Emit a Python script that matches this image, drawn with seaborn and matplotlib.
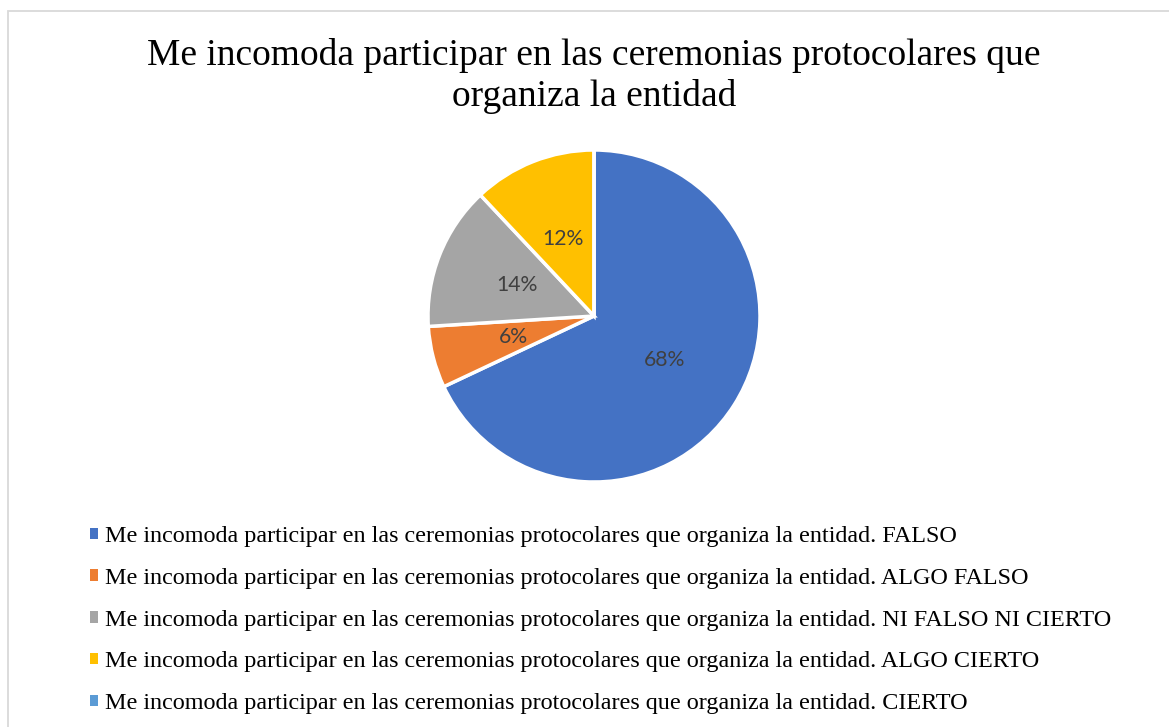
import matplotlib
matplotlib.use("Agg")
import matplotlib.pyplot as plt
from matplotlib.patches import Rectangle, Patch
import seaborn as sns

sns.set_theme(style="white")
plt.rcParams["font.family"] = ["Liberation Serif", "DejaVu Serif"]

# datos
title_lines = ["Me incomoda participar en las ceremonias protocolares que",
               "organiza la entidad"]
prefix = "Me incomoda participar en las ceremonias protocolares que organiza la entidad. "
categories = ["FALSO", "ALGO FALSO", "NI FALSO NI CIERTO", "ALGO CIERTO", "CIERTO"]
values = [68, 6, 14, 12, 0]
colors = ["#4472C4", "#ED7D31", "#A5A5A5", "#FFC000", "#5B9BD5"]

W, H = 1169, 727
fig = plt.figure(figsize=(W / 100, H / 100), dpi=100)
palette = sns.color_palette(colors)

# marco del gráfico (solo arriba e izquierda visibles)
fig.add_artist(Rectangle((7.5 / W, -0.1), 1.2, (H - 10.5) / H + 0.1,
                         transform=fig.transFigure, fill=False,
                         edgecolor="#D9D9D9", linewidth=1.3))

cx, cy, r = 594, 316, 166
ax = fig.add_axes([(cx - r) / W, (H - cy - r) / H, 2 * r / W, 2 * r / H])

wedges, texts, autotexts = ax.pie(
    values,
    colors=palette,
    startangle=90,
    counterclock=False,
    autopct=lambda p: f"{p:.0f}%" if p > 0.5 else "",
    pctdistance=0.5,
    wedgeprops=dict(edgecolor="white", linewidth=2.5),
    textprops=dict(color="#404040", fontsize=15.3, family=["Lato", "DejaVu Sans"]),
)
ax.set_xlim(-1.0, 1.0)
ax.set_ylim(-1.0, 1.0)
ax.set_aspect("equal")
ax.axis("off")

for line, base in zip(title_lines, [65, 106]):
    fig.text(cx / W, 1 - base / H, line, ha="center", va="baseline",
             fontsize=27, color="black")

handles = [Patch(facecolor=c, edgecolor="none") for c in palette]
fig.legend(handles, [prefix + c for c in categories],
           loc="upper left", bbox_to_anchor=(90 / W, 1 - 526 / H),
           frameon=False, fontsize=17.4, handlelength=0.34, handleheight=0.34,
           handletextpad=0.3, labelspacing=0.86, borderpad=0, borderaxespad=0,
           labelcolor="black")

fig.savefig("out.png", dpi=100)
